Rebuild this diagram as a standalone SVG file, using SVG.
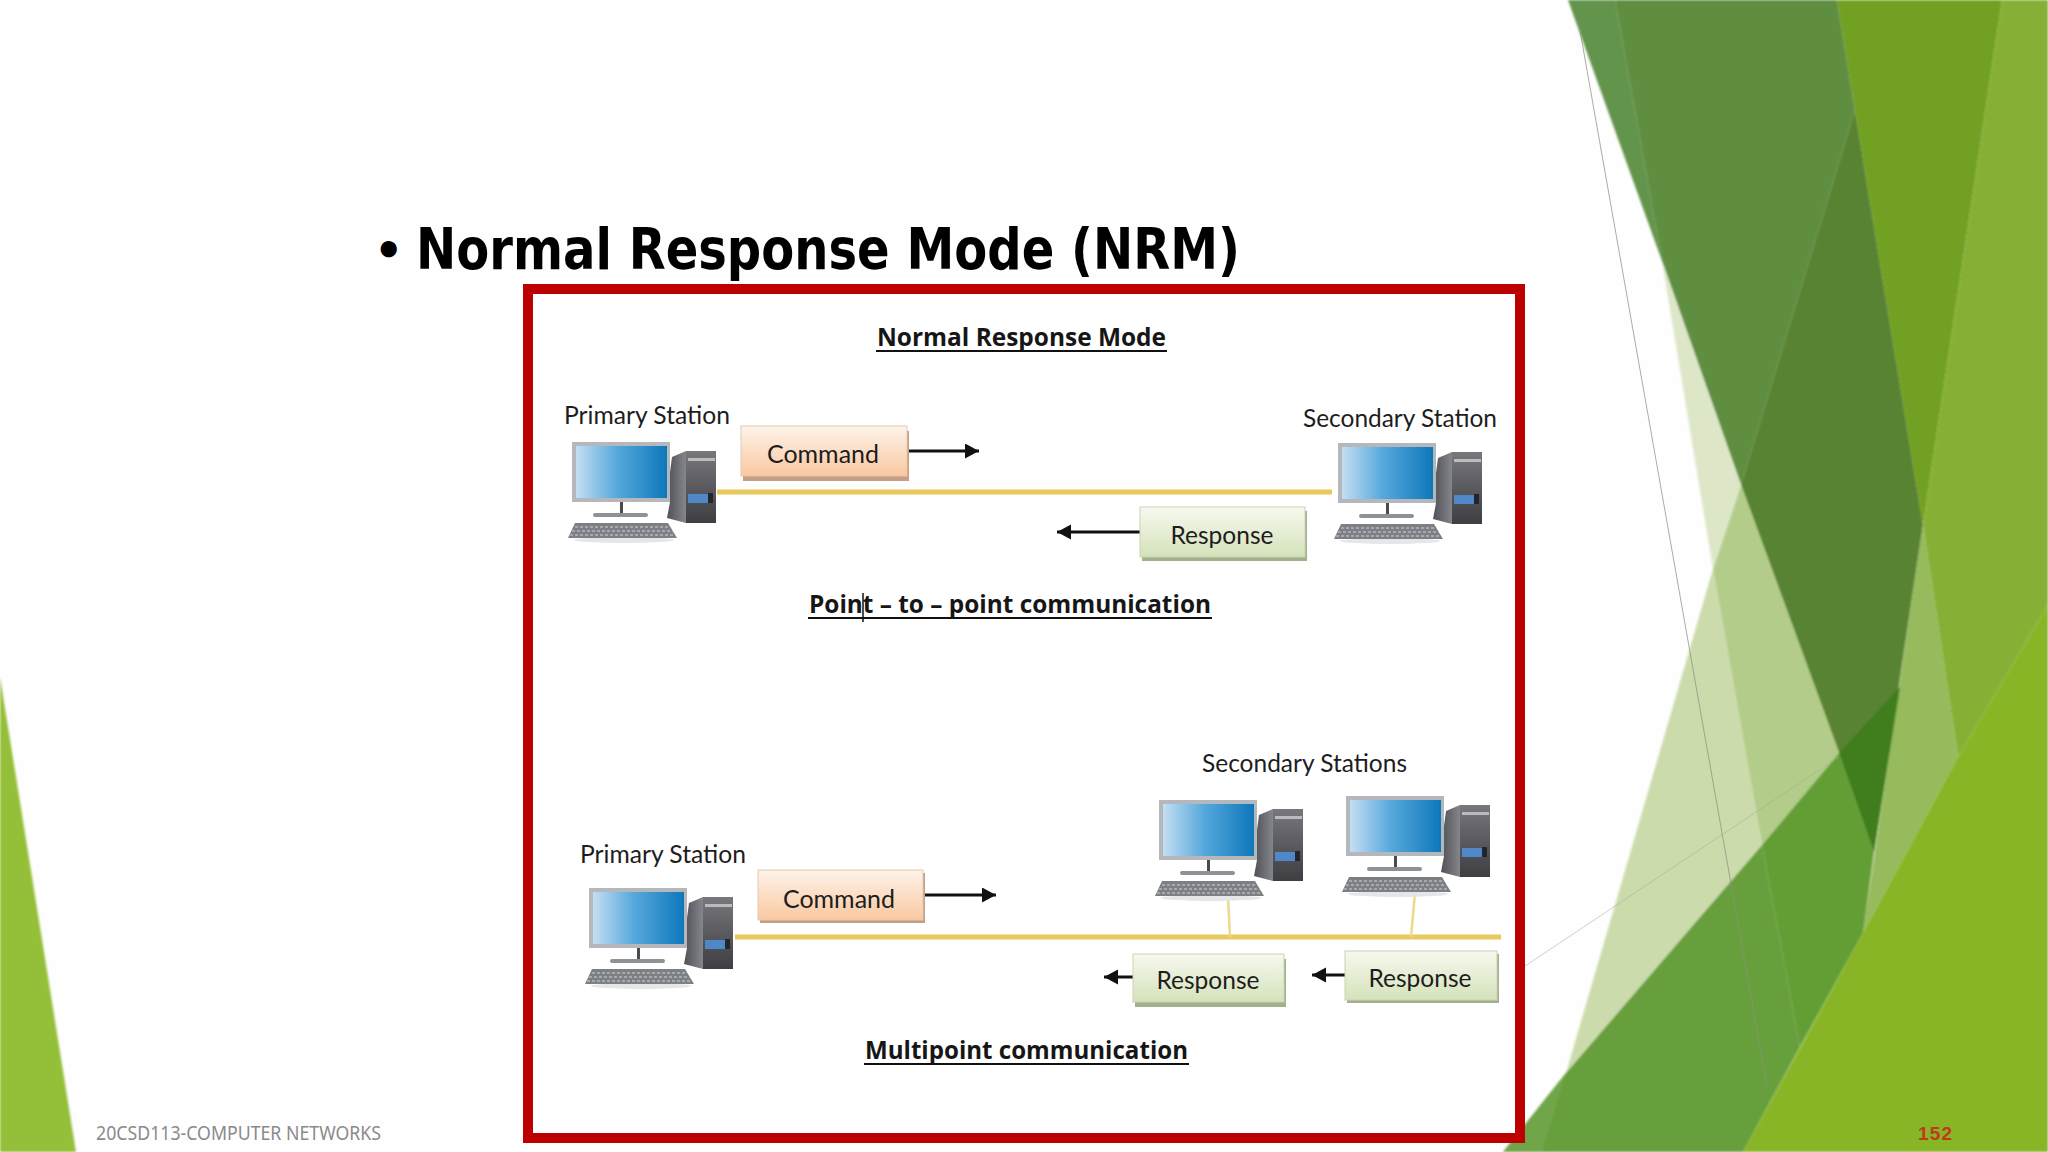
<svg xmlns="http://www.w3.org/2000/svg" xmlns:xlink="http://www.w3.org/1999/xlink" width="2048" height="1152" viewBox="0 0 2048 1152">
<style>
.lbl{font-family:"Lato","Liberation Sans",sans-serif;font-size:25px;fill:#1d1d1d}
.head{font-family:"Open Sans","Liberation Sans",sans-serif;font-weight:700;font-size:25px;fill:#161616}
.mid{text-anchor:middle}
.cmd{fill:url(#cmdGrad);stroke:#e3c9ae;stroke-width:1}
.cmdS{fill:#c49f84}
.res{fill:url(#resGrad);stroke:#c9d4b4;stroke-width:1}
.resS{fill:#a3b08c}
.arrow{stroke:#111;stroke-width:3;fill:none;marker-end:url(#tip)}
.bus{stroke:#e9c85c;stroke-width:5;fill:none}
.drop{stroke:#ecd98c;stroke-width:2.5;fill:none}
.rule{stroke:#111;stroke-width:2}
</style>
<defs>
<linearGradient id="cmdGrad" x1="0" y1="0" x2="0" y2="1"><stop offset="0" stop-color="#fdf3ea"/><stop offset="1" stop-color="#fac8a0"/></linearGradient>
<linearGradient id="resGrad" x1="0" y1="0" x2="0" y2="1"><stop offset="0" stop-color="#f6f9ef"/><stop offset="1" stop-color="#d5e2ba"/></linearGradient>
<linearGradient id="screen" x1="0" y1="0" x2="1" y2="0"><stop offset="0" stop-color="#c4def2"/><stop offset=".45" stop-color="#56a8dc"/><stop offset="1" stop-color="#0e78ba"/></linearGradient>
<linearGradient id="towerF" x1="0" y1="0" x2="0" y2="1"><stop offset="0" stop-color="#77777c"/><stop offset="1" stop-color="#3d3e42"/></linearGradient>
<linearGradient id="towerS" x1="0" y1="0" x2="1" y2="0"><stop offset="0" stop-color="#505157"/><stop offset="1" stop-color="#85868c"/></linearGradient>
<filter id="soft" x="-5%" y="-5%" width="110%" height="110%"><feGaussianBlur stdDeviation="0.6"/></filter>
<filter id="softBg" x="0" y="0" width="100%" height="100%"><feGaussianBlur stdDeviation="0.8"/></filter>
<marker id="tip" markerUnits="userSpaceOnUse" markerWidth="16" markerHeight="16" refX="14" refY="7.5" orient="auto"><path d="M0 0L14 7.5L0 15Z" fill="#111"/></marker>
<symbol id="pc" overflow="visible" width="150" height="100">
<g filter="url(#soft)">
<ellipse cx="52" cy="98" rx="50" ry="3" fill="#e4e6e8"/>
<path d="M100 15L114 9V81L95 76L98 60V30Z" fill="url(#towerS)"/>
<path d="M114 9H144V81H114Z" fill="url(#towerF)"/>
<rect x="0" y="0" width="98" height="60" fill="#b4b8bc"/>
<rect x="4" y="4" width="91" height="52" fill="url(#screen)"/>
<rect x="48" y="60" width="3" height="12" fill="#4a4c50"/>
<rect x="21" y="71" width="55" height="4" rx="2" fill="#8e9296"/>
<rect x="116" y="16" width="27" height="3" fill="#b9bbc0"/>
<rect x="116" y="52" width="20" height="9" fill="#4f87c7"/>
<rect x="136" y="51" width="5" height="10" fill="#23262c"/>
<path d="M3 81H96L105 96H-4Z" fill="#7b7f84"/>
<path d="M3 85H98M0 89H101M-2 93H103" stroke="#b4b7ba" stroke-width="1.4" stroke-dasharray="3 2" fill="none"/>
</g>
</symbol>
</defs>
<rect width="2048" height="1152" fill="#fefefe"/>
<g id="backdrop">
<g filter="url(#softBg)">
<polygon points="0,677 76,1152 0,1152" fill="#94bf38"/>
<polygon points="1568,0 1615,0 1662,261" fill="#64944c"/>
<polygon points="1615,0 1837,0 1855,110 1741,485 1662,261" fill="#5f8e40"/>
<polygon points="1855,110 1923,525 1874,852 1839,753 1741,485" fill="#598333"/>
<polygon points="1837,0 2002,0 1923,525" fill="#72a023"/>
<polygon points="2002,0 2048,0 2048,605 1958,757 1923,525" fill="#86b034"/>
<polygon points="1923,525 1958,757 1863,933" fill="#96ba5b"/>
<polygon points="1713,569 1741,485 1839,753 1762,845" fill="#b3cc89"/>
<polygon points="1662,261 1741,485 1713,569" fill="#dde7c8"/>
<polygon points="1713,569 1762,845 1566,1073" fill="#ccdbab"/>
<polygon points="1503,1152 1566,1073 1762,845 1800,1047 1743,1152" fill="#689f3d"/>
<polygon points="1503,1152 1566,1073 1542,1152" fill="#6fa64a"/>
<polygon points="1762,845 1839,753 1874,852 1863,933 1800,1047" fill="#639e35"/>
<polygon points="1839,753 1900,687 1874,852" fill="#417d1b"/>
<polygon points="1743,1152 1863,933 1958,757 2048,605 2048,1152" fill="#88b528"/>
</g>
<path d="M1579 25L1767 1087" stroke="#8a9382" stroke-opacity=".75" stroke-width="1" fill="none"/>
<path d="M1525 966L1839 757" stroke="#a5ad98" stroke-opacity=".7" stroke-width="0.8" fill="none"/>
</g>
<text id="title-bullet" x="374" y="266" font-family="'DejaVu Sans',sans-serif" font-weight="700" font-size="46" fill="#000">•</text>
<text id="title" x="416" y="269" font-family="'DejaVu Sans',sans-serif" font-weight="700" font-size="57" fill="#000" textLength="824" lengthAdjust="spacingAndGlyphs">Normal Response Mode (NRM)</text>
<rect id="frame" x="528" y="289" width="992" height="849" fill="#fff" stroke="#bd0000" stroke-width="10"/>
<text id="heading-1" class="head" x="877" y="346" textLength="289" lengthAdjust="spacingAndGlyphs">Normal Response Mode</text>
<line class="rule" x1="876" y1="351" x2="1167" y2="351"/>
<text id="heading-2" class="head" x="809" y="613" textLength="402" lengthAdjust="spacingAndGlyphs">Point – to – point communication</text>
<line class="rule" x1="808" y1="618" x2="1212" y2="618"/>
<line x1="863" y1="593" x2="863" y2="622" stroke="#111" stroke-width="1.5"/>
<text id="heading-3" class="head" x="865" y="1059" textLength="323" lengthAdjust="spacingAndGlyphs">Multipoint communication</text>
<line class="rule" x1="864" y1="1064" x2="1189" y2="1064"/>
<g id="connectors">
<line id="bus-1" class="bus" x1="717" y1="492" x2="1332" y2="492"/>
<line id="bus-2" class="bus" x1="735" y1="937" x2="1501" y2="937"/>
<line id="drop-1" class="drop" x1="1228" y1="897" x2="1230" y2="937"/>
<line id="drop-2" class="drop" x1="1415" y1="893" x2="1411" y2="937"/>
<line id="arrow-cmd-1" class="arrow" x1="905" y1="451" x2="979" y2="451"/>
<line id="arrow-res-1" class="arrow" x1="1140" y1="532" x2="1057" y2="532"/>
<line id="arrow-cmd-2" class="arrow" x1="922" y1="895" x2="996" y2="895"/>
<line id="arrow-res-2" class="arrow" x1="1133" y1="977" x2="1104" y2="977"/>
<line id="arrow-res-3" class="arrow" x1="1345" y1="975" x2="1312" y2="975"/>
</g>
<g id="primary-1"><use href="#pc" xlink:href="#pc" x="572" y="442"/><text class="lbl" x="564" y="424" textLength="166" lengthAdjust="spacingAndGlyphs">Primary Station</text></g>
<g id="secondary-1"><use href="#pc" xlink:href="#pc" x="1338" y="443"/><text class="lbl" x="1303" y="427" textLength="194" lengthAdjust="spacingAndGlyphs">Secondary Station</text></g>
<g id="primary-2"><use href="#pc" xlink:href="#pc" x="589" y="888"/><text class="lbl" x="580" y="863" textLength="166" lengthAdjust="spacingAndGlyphs">Primary Station</text></g>
<g id="secondary-2"><use href="#pc" xlink:href="#pc" x="1159" y="800"/></g>
<g id="secondary-3"><use href="#pc" xlink:href="#pc" x="1346" y="796"/></g>
<text id="secondary-label" class="lbl" x="1202" y="772" textLength="205" lengthAdjust="spacingAndGlyphs">Secondary Stations</text>
<g id="command-1"><rect class="cmdS" x="743" y="431" width="166" height="50"/><rect class="cmd" x="741" y="426" width="166" height="50"/><text class="lbl mid" x="823" y="463" textLength="112" lengthAdjust="spacingAndGlyphs">Command</text></g>
<g id="response-1"><rect class="resS" x="1142" y="511" width="165" height="50"/><rect class="res" x="1140" y="507" width="165" height="50"/><text class="lbl mid" x="1222" y="544" textLength="103" lengthAdjust="spacingAndGlyphs">Response</text></g>
<g id="command-2"><rect class="cmdS" x="760" y="873" width="165" height="50"/><rect class="cmd" x="758" y="870" width="165" height="50"/><text class="lbl mid" x="839" y="908" textLength="112" lengthAdjust="spacingAndGlyphs">Command</text></g>
<g id="response-2"><rect class="resS" x="1135" y="959" width="151" height="48"/><rect class="res" x="1133" y="954" width="151" height="48"/><text class="lbl mid" x="1208" y="989" textLength="103" lengthAdjust="spacingAndGlyphs">Response</text></g>
<g id="response-3"><rect class="resS" x="1347" y="954" width="152" height="49"/><rect class="res" x="1345" y="951" width="152" height="49"/><text class="lbl mid" x="1420" y="987" textLength="103" lengthAdjust="spacingAndGlyphs">Response</text></g>
<text id="footer" x="96" y="1140" font-family="'Noto Sans',sans-serif" font-size="19" fill="#8a8a8a" textLength="285" lengthAdjust="spacingAndGlyphs">20CSD113-COMPUTER NETWORKS</text>
<text id="page" x="1918" y="1140" font-family="'Liberation Sans',sans-serif" font-weight="700" font-size="19" fill="#c0391b" textLength="34" lengthAdjust="spacing">152</text>
</svg>
